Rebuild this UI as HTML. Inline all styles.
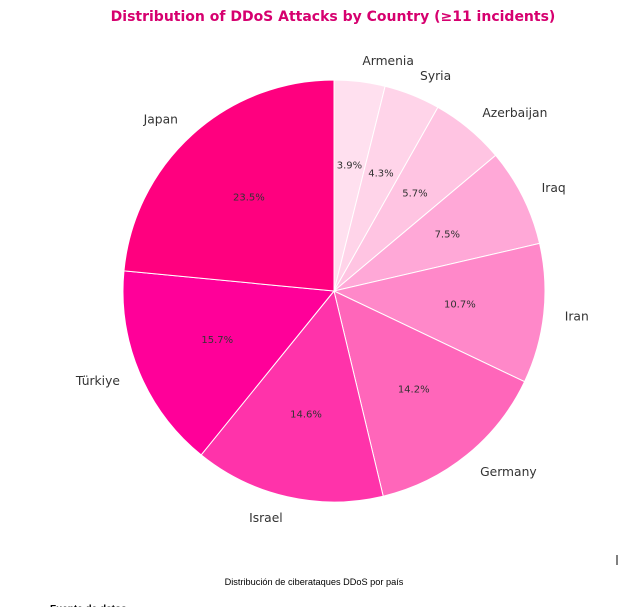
<!DOCTYPE html>
<html><head><meta charset="utf-8"><style>
html,body{margin:0;padding:0;background:#fff;width:618px;height:607px;overflow:hidden;}
svg{display:block;font-family:"DejaVu Sans","Liberation Sans",sans-serif;}
</style></head><body>
<svg id="s" width="618" height="607" xmlns="http://www.w3.org/2000/svg">
<text x="333" y="21" text-anchor="middle" font-size="14" font-weight="bold" fill="#d6006f">Distribution of DDoS Attacks by Country (≥11 incidents)</text>
<g id="pie"></g>
<text x="314" y="585" text-anchor="middle" font-family="Liberation Sans, sans-serif" font-size="9.2" fill="#000">Distribución de ciberataques DDoS por país</text>
<line x1="617" y1="555" x2="617" y2="565" stroke="#000" stroke-width="1"/>
<text x="50" y="612" font-family="Liberation Sans, sans-serif" font-size="10" font-weight="bold" fill="#000">Fuente de datos</text>
</svg>
<script>
var d=[["Armenia",3.9,"#ffe0ef"],["Syria",4.3,"#ffd4e9"],["Azerbaijan",5.7,"#ffc4e2"],["Iraq",7.5,"#ffa8d7"],["Iran",10.7,"#ff88c9"],["Germany",14.2,"#ff66ba"],["Israel",14.6,"#ff33aa"],["Türkiye",15.7,"#ff0099"],["Japan",23.5,"#ff007f"]];
var cx=334,cy=291,r=211,tot=0;d.forEach(function(e){tot+=e[1];});
var g=document.getElementById("pie"),h="",acc=0;
function pt(a,rr){return [cx+rr*Math.cos(a),cy-rr*Math.sin(a)];}
d.forEach(function(e){
 var a0=(90-acc/tot*360)*Math.PI/180;acc+=e[1];
 var a1=(90-acc/tot*360)*Math.PI/180,am=(a0+a1)/2;
 var p0=pt(a0,r),p1=pt(a1,r),large=(a0-a1)>Math.PI?1:0;
 h+='<path d="M'+cx+','+cy+' L'+p0[0]+','+p0[1]+' A'+r+','+r+' 0 '+large+' 1 '+p1[0]+','+p1[1]+' Z" fill="'+e[2]+'" stroke="#fff" stroke-width="1"/>';
 var l=pt(am,r*1.1),c=Math.cos(am);
 h+='<text x="'+l[0]+'" y="'+(l[1]+4.5)+'" font-size="12.3" fill="#333" text-anchor="'+(c<-0.001?"end":"start")+'">'+e[0]+'</text>';
 var q=pt(am,r*0.6);
 h+='<text x="'+q[0]+'" y="'+(q[1]+3)+'" font-size="10" fill="#333" text-anchor="middle">'+e[1].toFixed(1)+'%</text>';
});
g.innerHTML=h;
</script>
</body></html>
